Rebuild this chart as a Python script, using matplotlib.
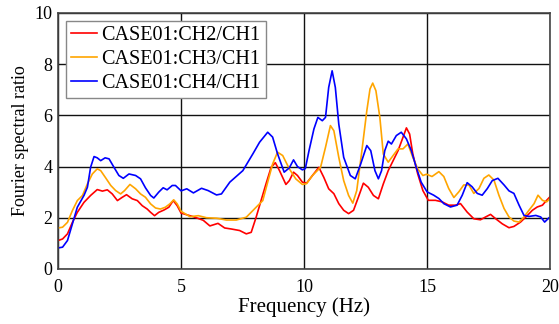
import matplotlib
matplotlib.use("Agg")
import matplotlib.pyplot as plt

plt.rcParams['font.family'] = ['Liberation Serif', 'DejaVu Serif']

# CASE01:CH2/CH1 (red)
f_ch2 = [0, 0.18, 0.38, 0.58, 0.78, 1.05, 1.32, 1.59, 1.8, 2.0, 2.2, 2.41, 2.61, 2.78, 3.01, 3.22,
         3.42, 3.62, 3.76, 3.92, 4.09, 4.3, 4.5, 4.68, 4.84, 5.0, 5.5, 5.9, 6.17, 6.5, 6.77, 7.04,
         7.38, 7.65, 7.85, 8.05, 8.25, 8.45, 8.66, 8.83, 9.0, 9.26, 9.4, 9.57, 9.73, 9.93, 10.1,
         10.34, 10.6, 10.8, 11.0, 11.21, 11.41, 11.61, 11.81, 12.01, 12.21, 12.41, 12.61, 12.82,
         13.02, 13.22, 13.42, 13.62, 13.82, 14.02, 14.16, 14.29, 14.42, 14.62, 14.83, 15.05,
         15.34, 15.61, 15.88, 16.15, 16.36, 16.63, 16.9, 17.17, 17.38, 17.58, 17.79, 18.06,
         18.33, 18.53, 18.8, 19.08, 19.28, 19.48, 19.69, 19.86, 20.0]
r_ch2 = [1.11, 1.17, 1.37, 1.82, 2.21, 2.6, 2.87, 3.1, 3.04, 3.09, 2.93, 2.67, 2.8, 2.9, 2.74, 2.67,
         2.47, 2.34, 2.21, 2.08, 2.21, 2.3, 2.41, 2.67, 2.47, 2.18, 2.04, 1.9, 1.68, 1.78, 1.6, 1.56,
         1.5, 1.37, 1.43, 2.02, 2.67, 3.32, 3.97, 4.15, 3.84, 3.3, 3.45, 3.78, 3.65, 3.39, 3.35,
         3.65, 3.97, 3.58, 3.13, 2.94, 2.55, 2.29, 2.16, 2.29, 2.81, 3.35, 3.19, 2.87,
         2.74, 3.32, 3.84, 4.23, 4.62, 5.14, 5.51, 5.27, 4.49, 3.71, 3.06, 2.68,
         2.68, 2.62, 2.49, 2.49, 2.55, 2.22, 1.96, 1.92, 2.03, 2.13, 1.96, 1.76,
         1.61, 1.66, 1.83, 2.09, 2.29, 2.42, 2.49, 2.68, 2.82]

# CASE01:CH3/CH1 (orange)
f_ch3 = [0, 0.18, 0.38, 0.58, 0.78, 0.99, 1.19, 1.39, 1.59, 1.73, 1.93, 2.14, 2.34, 2.54, 2.7, 2.92,
         3.15, 3.35, 3.55, 3.76, 3.96, 4.16, 4.36, 4.54, 4.7, 4.84, 5.0, 5.36, 5.7, 6.03, 6.44, 6.84,
         7.24, 7.65, 8.05, 8.32, 8.52, 8.72, 8.92, 9.13, 9.4, 9.66, 9.93, 10.1, 10.34, 10.67,
         10.87, 11.07, 11.21, 11.41, 11.61, 11.81, 11.98, 12.14, 12.35, 12.55, 12.68, 12.79,
         12.92, 13.08, 13.22, 13.42, 13.62, 13.82, 14.02, 14.22, 14.42, 14.62, 14.83, 14.98,
         15.2, 15.48, 15.68, 15.88, 16.09, 16.29, 16.49, 16.7, 16.9, 17.11, 17.31, 17.51, 17.72,
         17.92, 18.13, 18.33, 18.53, 18.74, 18.94, 19.14, 19.35, 19.51, 19.69, 19.86, 20.0]
r_ch3 = [1.6, 1.63, 1.82, 2.28, 2.67, 2.87, 3.32, 3.71, 3.91, 3.84, 3.56, 3.26, 3.06, 2.93, 3.06, 3.3,
         3.13, 2.93, 2.8, 2.54, 2.38, 2.34, 2.41, 2.54, 2.7, 2.54, 2.25, 2.04, 2.08, 2.0, 1.98, 1.91,
         1.91, 2.02, 2.41, 2.67, 3.39, 4.1, 4.56, 4.43, 3.91, 3.52, 3.3, 3.33, 3.65, 3.97,
         4.75, 5.6, 5.4, 4.36, 3.45, 2.87, 2.57, 3.06, 4.62, 6.18, 7.03, 7.26,
         6.96, 5.92, 4.49, 4.17, 4.43, 4.69, 4.69, 4.88, 4.36, 3.91, 3.65, 3.7,
         3.61, 3.8, 3.61, 3.14, 2.79, 3.01, 3.28, 3.28, 2.95, 3.14, 3.54, 3.67, 3.47,
         2.88, 2.36, 2.03, 1.87, 1.83, 2.03, 2.29, 2.55, 2.88, 2.68, 2.62, 2.75]

# CASE01:CH4/CH1 (blue)
f_ch4 = [0, 0.18, 0.38, 0.58, 0.78, 1.05, 1.19, 1.32, 1.46, 1.59, 1.73, 1.91, 2.07, 2.27, 2.47, 2.65,
         2.88, 3.15, 3.35, 3.55, 3.76, 3.89, 4.09, 4.27, 4.43, 4.64, 4.77, 5.0, 5.23, 5.5, 5.83,
         6.1, 6.44, 6.64, 6.98, 7.51, 7.92, 8.19, 8.52, 8.72, 8.92, 9.19, 9.4, 9.57, 9.73, 9.93,
         10.05, 10.2, 10.4, 10.56, 10.74, 10.87, 11.0, 11.14, 11.27, 11.41, 11.61, 11.88, 12.08,
         12.28, 12.55, 12.71, 12.88, 13.02, 13.15, 13.28, 13.42, 13.55, 13.75, 13.95, 14.16,
         14.36, 14.56, 14.76, 15.0, 15.27, 15.48, 15.68, 15.95, 16.22, 16.43, 16.63, 16.83,
         17.04, 17.24, 17.45, 17.65, 17.88, 18.13, 18.33, 18.53, 18.74, 18.94, 19.14, 19.42,
         19.62, 19.78, 19.96]
r_ch4 = [0.82, 0.85, 1.11, 1.76, 2.41, 2.87, 3.19, 3.97, 4.39, 4.34, 4.23, 4.34, 4.3, 3.97, 3.65, 3.54,
         3.71, 3.65, 3.52, 3.17, 2.87, 2.77, 3.0, 3.17, 3.09, 3.26, 3.26, 3.05, 3.13, 2.97, 3.15,
         3.06, 2.89, 2.93, 3.39, 3.84, 4.5, 4.95, 5.34, 5.15, 4.5, 3.78, 3.95, 4.26, 4.0, 3.87,
         3.92, 4.62, 5.47, 5.92, 5.79, 5.92, 7.09, 7.74, 7.09, 5.66, 4.36, 3.65, 3.52,
         4.04, 4.82, 4.62, 3.84, 3.52, 3.84, 4.62, 4.99, 4.88, 5.21, 5.34, 5.08,
         4.62, 3.97, 3.39, 3.01, 2.88, 2.75, 2.55, 2.42, 2.49, 2.88, 3.37, 3.21,
         2.95, 2.88, 3.14, 3.45, 3.54, 3.28, 3.05, 2.95, 2.49, 2.09, 2.05, 2.09,
         2.03, 1.83, 2.0]

fig, ax = plt.subplots(figsize=(5.59, 3.24), dpi=100)
fig.subplots_adjust(left=0.104, right=0.984, top=0.96, bottom=0.17)

ax.plot(f_ch2, r_ch2, color='#ff0000', lw=1.2, label='CASE01:CH2/CH1')
ax.plot(f_ch3, r_ch3, color='#ffa500', lw=1.2, label='CASE01:CH3/CH1')
ax.plot(f_ch4, r_ch4, color='#0000ff', lw=1.2, label='CASE01:CH4/CH1')

ax.set_xlim(0, 20)
ax.set_ylim(0, 10)
ax.set_xticks([0, 5, 10, 15, 20])
ax.set_yticks([0, 2, 4, 6, 8, 10])
ax.grid(True, color='#111111', lw=1.0)
ax.set_axisbelow(True)
ax.tick_params(labelsize=13, length=0)
ax.tick_params(axis='x', pad=7)
ax.tick_params(axis='y', pad=4)
for s in ax.spines.values():
    s.set_color('#444444')
    s.set_linewidth(1.2)

ax.set_xlabel('Frequency (Hz)', fontsize=15, labelpad=1)
ax.set_ylabel('Fourier spectral ratio', fontsize=13, labelpad=4)

leg = ax.legend(loc='upper left', fontsize=14.5, fancybox=False, framealpha=1,
                edgecolor='#888888', handlelength=1.3, handletextpad=0.2,
                borderpad=0.25, labelspacing=0.25, borderaxespad=0.4)
leg.get_frame().set_linewidth(1.0)

fig.savefig('out.png', dpi=100)
